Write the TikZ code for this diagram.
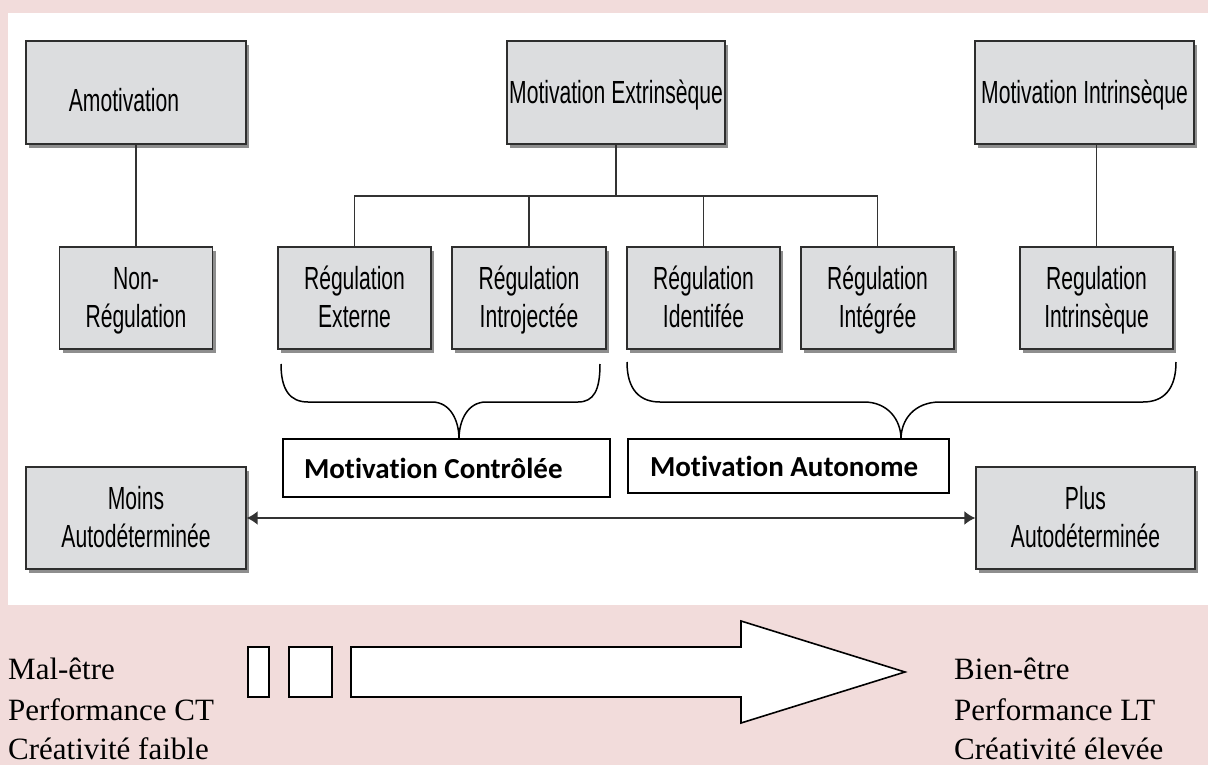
\documentclass[tikz,border=0pt]{standalone}
\usepackage{fontspec}
\setmainfont{Liberation Serif}
\newfontfamily\narrowsf[FakeStretch=0.66]{Liberation Sans}
\newfontfamily\calib[Ligatures=NoCommon]{Carlito}
\usetikzlibrary{shadows,arrows.meta}
\definecolor{pinkbg}{HTML}{F2DCDB}
\definecolor{boxgray}{HTML}{DCDDDF}
\definecolor{edgegray}{HTML}{2E2E2E}
\definecolor{shadowgray}{HTML}{8E8E8E}
\definecolor{linegray}{HTML}{333333}
\newcommand{\twoln}[2]{\vphantom{Ég}#1\\#2\vphantom{Ég}}
\newcommand{\onel}[1]{\vphantom{Ég}#1}
\begin{document}
\begin{tikzpicture}[x=1pt,y=-1pt,
  gbox/.style={draw=edgegray, line width=1.4pt, fill=boxgray, inner sep=0pt, align=center,
    font=\narrowsf\fontsize{32}{38}\selectfont,
    general shadow={fill=shadowgray, shadow xshift=3pt, shadow yshift=-4pt}},
  topbox/.style={gbox, minimum height=103pt},
  regbox/.style={gbox, minimum height=102pt, minimum width=153pt},
  bbox/.style={draw=black, line width=1.5pt, fill=white, inner ysep=0pt, align=flush left,
    font=\calib\bfseries\fontsize{29}{34}\selectfont},
  conn/.style={draw=linegray, line width=1.2pt},
  brace/.style={draw=black, line width=1.5pt},
  dbl/.style={draw=linegray, line width=1.8pt, {Latex[length=11pt,width=14pt]}-{Latex[length=11pt,width=14pt]}},
  blk/.style={draw=black, line width=1.6pt, fill=white, line join=miter},
  side/.style={anchor=base west, inner sep=0pt, font=\fontsize{31}{36}\selectfont}
]
\useasboundingbox (0,0) rectangle (1208,765);
\fill[pinkbg] (0,0) rectangle (1208,765);
\fill[white] (8,13) rectangle (1208,605);

% top row
\node[topbox, minimum width=220pt] (amot) at (136,92.5) {\hspace*{-24pt}\raisebox{-8pt}[\height][\depth]{\onel{Amotivation}}};
\node[topbox, minimum width=218pt] (ext) at (616,92.5) {\onel{Motivation Extrinsèque}};
\node[topbox, minimum width=219pt] (intr) at (1084.5,92.5) {\onel{Motivation Intrinsèque}};

% second row
\node[regbox] (nonreg) at (136,298) {\twoln{Non-}{Régulation}};
\node[regbox] (rext) at (354.5,298) {\twoln{Régulation}{Externe}};
\node[regbox, minimum width=154pt] (rintro) at (529,298) {\twoln{Régulation}{Introjectée}};
\node[regbox] (rident) at (703.5,298) {\twoln{Régulation}{Identifée}};
\node[regbox] (rinteg) at (877.5,298) {\twoln{Régulation}{Intégrée}};
\node[regbox] (rintr) at (1096.5,298) {\twoln{Regulation}{Intrinsèque}};

% connectors
\draw[conn] (amot.south) -- (amot.south |- nonreg.north);
\coordinate (bar) at (616,196);
\draw[conn] (ext.south) -- (bar);
\draw[conn] (rext.north) |- (bar);
\draw[conn] (rintro.north) |- (bar);
\draw[conn] (rident.north) |- (bar);
\draw[conn] (rinteg.north) |- (bar);
\draw[conn] (rintr.north) -- (rintr.north |- intr.south);

% braces
\draw[brace] (281,364) .. controls (281,390) and (290,402) .. (308,402) -- (432,402)
  .. controls (450,402) and (459,420) .. (459,439)
  .. controls (459,420) and (468,402) .. (486,402) -- (578,402)
  .. controls (594,402) and (600,390) .. (600,364);
\draw[brace] (627,362) .. controls (627,390) and (640,402) .. (660,402) -- (864,402)
  .. controls (888,402) and (901,420) .. (901,439)
  .. controls (901,420) and (914,402) .. (940,402) -- (1143,402)
  .. controls (1163,402) and (1176,390) .. (1176,362);

% bold boxes
\node[bbox, text width=285pt, inner xsep=21pt, minimum height=58pt] (ctrl) at (446.5,468) {Motivation Contrôlée};
\node[bbox, text width=277pt, inner xsep=22pt, minimum height=54pt] (auto) at (788.5,466) {Motivation Autonome};

% self-determination axis
\node[gbox, minimum width=220pt, minimum height=102pt] (moins) at (136,518) {\twoln{Moins}{Autodéterminée}};
\node[gbox, minimum width=219pt, minimum height=102pt] (plus) at (1085.5,518) {\twoln{Plus}{Autodéterminée}};
\draw[dbl] (moins.east) -- (plus.west);

% bottom block arrow
\draw[blk] (248,647) rectangle (269,697);
\draw[blk] (289,647) rectangle (332,697);
\draw[blk] (351,647) -- (741,647) -- (741,621) -- (905,672) -- (741,723) -- (741,697) -- (351,697) -- cycle;

% side texts
\node[side] (l1) at (8,679) {Mal-être};
\node[side] (l2) at (8,720) {Performance CT};
\node[side] (l3) at (8,759) {Créativité faible};
\node[side] (r1) at (954,679) {Bien-être};
\node[side] (r2) at (954,720) {Performance LT};
\node[side] (r3) at (954,759) {Créativité élevée};
\end{tikzpicture}
\end{document}
